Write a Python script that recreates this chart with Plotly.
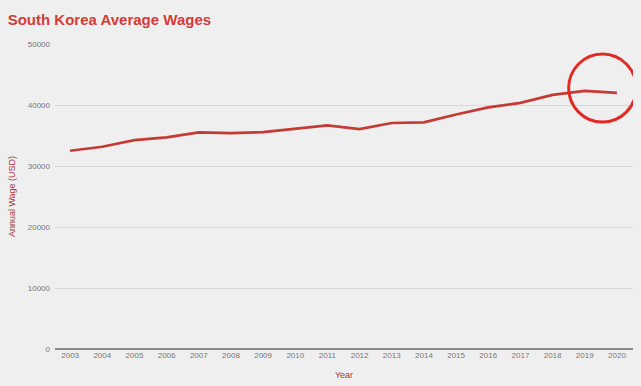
import plotly.graph_objects as go

years = list(range(2003, 2021))
wages = [32500, 33150, 34250, 34700, 35500, 35400, 35550, 36100, 36650,
         36050, 37050, 37150, 38450, 39600, 40350, 41650, 42300, 42000]
y_ticks = [0, 10000, 20000, 30000, 40000, 50000]

fig = go.Figure()
fig.add_trace(go.Scatter(
    x=years, y=wages, mode="lines",
    line=dict(color="#c43a35", width=2.7),
    hoverinfo="skip", showlegend=False,
))

# highlight circle around latest values
fig.add_shape(type="circle", xref="x", yref="y",
              x0=2018.5, x1=2020.6, y0=37200, y1=48350,
              line=dict(color="#e02b25", width=3))

fig.update_layout(
    width=641, height=386,
    margin=dict(l=55, r=8, t=44, b=37),
    paper_bgcolor="#efefef", plot_bgcolor="#efefef",
    font=dict(family="Liberation Sans, Arial, sans-serif", color="#777777", size=8),
    title=dict(text="<b>South Korea Average Wages</b>",
               x=0.012, xanchor="left", y=0.950, yanchor="middle",
               font=dict(size=15, color="#d23c36",
                         family="Liberation Sans, Arial, sans-serif")),
    xaxis=dict(
        tickmode="array", tickvals=years, ticktext=[str(y) for y in years],
        range=[2002.53, 2020.5], showgrid=False, zeroline=False,
        showline=False, ticks="", tickfont=dict(size=8, color="#777777"),
        title=dict(text="Year", font=dict(size=9, color="#a5383a"), standoff=12),
        automargin=False,
    ),
    yaxis=dict(
        tickmode="array", tickvals=y_ticks, ticktext=[str(v) for v in y_ticks],
        range=[0, 50000], showgrid=True, gridcolor="#d9d9d9", gridwidth=1,
        zeroline=True, zerolinecolor="#8a8a8a", zerolinewidth=1.5,
        ticks="", tickfont=dict(size=8, color="#777777"), ticklabelstandoff=4,
        title=dict(text="Annual Wage (USD)", font=dict(size=9, color="#a5383a"), standoff=10),
        automargin=False,
    ),
)

fig.write_html("out.html",
               config={"displayModeBar": False},
               post_script="document.body.style.margin='0';document.body.style.padding='0';")
